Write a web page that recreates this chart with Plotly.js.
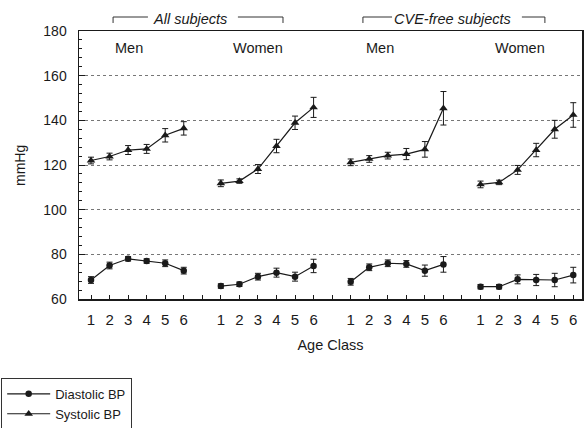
<!DOCTYPE html>
<html>
<head>
<meta charset="utf-8">
<script src="https://cdn.plot.ly/plotly-3.0.1.min.js"></script>
<style>html,body{margin:0;padding:0;background:#fff;}#chart{width:587px;height:428px;}</style>
</head>
<body>
<div id="chart"></div>
<script>
// Age classes and the four panels
const ageClasses = [1, 2, 3, 4, 5, 6];
const groups = ["All subjects – Men", "All subjects – Women", "CVE-free subjects – Men", "CVE-free subjects – Women"];
const panelLabels = ["Men", "Women", "Men", "Women"];
const headerLabels = ["All subjects", "CVE-free subjects"];
const yTitle = "mmHg";
const xTitle = "Age Class";

// Diastolic BP (mmHg) per panel and its error
const diaAllMen     = [68.5, 75.0, 78.0, 77.0, 76.0, 72.7];
const diaAllWomen   = [65.8, 66.6, 70.0, 71.8, 70.0, 74.8];
const diaFreeMen    = [67.7, 74.2, 76.0, 75.7, 72.7, 75.5];
const diaFreeWomen  = [65.5, 65.5, 68.8, 68.5, 68.5, 70.7];
const diaErrAllMen    = [1.5, 1.5, 1.0, 1.0, 1.5, 1.5];
const diaErrAllWomen  = [1.0, 1.0, 1.5, 2.0, 2.0, 3.0];
const diaErrFreeMen   = [1.5, 1.5, 1.5, 1.5, 2.5, 3.5];
const diaErrFreeWomen = [1.0, 1.0, 2.0, 2.5, 3.0, 3.5];

// Systolic BP (mmHg) per panel and its error
const sysAllMen     = [122.0, 123.8, 126.7, 127.2, 133.3, 136.4];
const sysAllWomen   = [111.8, 112.8, 118.2, 128.5, 138.9, 145.8];
const sysFreeMen    = [121.2, 122.7, 124.2, 124.9, 127.0, 145.4];
const sysFreeWomen  = [111.3, 112.2, 117.8, 126.7, 136.0, 142.4];
const sysErrAllMen    = [1.5, 1.5, 2.0, 2.0, 3.0, 3.0];
const sysErrAllWomen  = [1.5, 1.0, 2.0, 3.0, 3.0, 4.5];
const sysErrFreeMen   = [1.5, 1.5, 1.5, 2.5, 3.5, 7.5];
const sysErrFreeWomen = [1.5, 1.0, 2.0, 3.0, 4.0, 5.5];

const diaSets = [diaAllMen, diaAllWomen, diaFreeMen, diaFreeWomen];
const diaErrs = [diaErrAllMen, diaErrAllWomen, diaErrFreeMen, diaErrFreeWomen];
const sysSets = [sysAllMen, sysAllWomen, sysFreeMen, sysFreeWomen];
const sysErrs = [sysErrAllMen, sysErrAllWomen, sysErrFreeMen, sysErrFreeWomen];

const step = 7; // panel offset on the shared x axis
function build(sets, errs) {
  const x = [], y = [], e = [];
  sets.forEach((s, g) => {
    ageClasses.forEach((c, i) => { x.push(g * step + c); y.push(s[i]); e.push(errs[g][i]); });
    if (g < sets.length - 1) { x.push(g * step + 7); y.push(null); e.push(null); }
  });
  return {x, y, e};
}
const dia = build(diaSets, diaErrs);
const sys = build(sysSets, sysErrs);

const ink = "#1a1a1a";
const FONT = "Liberation Sans, Arial, Helvetica, sans-serif";

const traces = [
  {type: "scatter", mode: "lines+markers", name: "Diastolic BP", x: dia.x, y: dia.y, connectgaps: false,
   line: {color: ink, width: 1.2}, marker: {symbol: "circle", size: 6.5, color: ink},
   error_y: {type: "data", array: dia.e, visible: true, color: ink, thickness: 1, width: 3}},
  {type: "scatter", mode: "lines+markers", name: "Systolic BP", x: sys.x, y: sys.y, connectgaps: false,
   line: {color: ink, width: 1.2}, marker: {symbol: "triangle-up", size: 7.5, color: ink},
   error_y: {type: "data", array: sys.e, visible: true, color: ink, thickness: 1, width: 3}}
];

const tickvals = [], ticktext = [];
for (let v = 1; v <= 27; v++) { tickvals.push(v); ticktext.push(v % 7 === 0 ? "" : String(v % 7)); }

const panelX = [3.05, 10.0, 16.58, 24.13];
const annotations = panelLabels.map((t, i) => ({
  text: t, x: panelX[i], xref: "x", y: 0.9366, yref: "paper", showarrow: false,
  font: {family: FONT, size: 14.5, color: ink}, xanchor: "center", yanchor: "middle"
}));
const headerX = [6.34, 20.51];
headerLabels.forEach((t, i) => annotations.push({
  text: "<i>" + t + "</i>", x: headerX[i], xref: "x", y: 1.0448, yref: "paper", showarrow: false,
  font: {family: FONT, size: 14.5, color: ink}, xanchor: "center", yanchor: "middle"
}));
annotations.push({
  text: yTitle, textangle: -90, x: -0.1173, xref: "paper", y: 0.5, yref: "paper", showarrow: false,
  font: {family: FONT, size: 14, color: ink}, xanchor: "center", yanchor: "middle"
});

const yl = 1.0522, yb = 1.0299;
const segs = [
  [2.19, 4.07], [8.92, 11.35], [15.66, 17.23], [24.23, 25.47]
];
const shapes = [];
segs.forEach(s => shapes.push({type: "line", xref: "x", yref: "paper", x0: s[0], x1: s[1], y0: yl, y1: yl, line: {color: "#333", width: 1}}));
[2.19, 11.35, 15.66, 25.47].forEach(xv => shapes.push({type: "line", xref: "x", yref: "paper", x0: xv, x1: xv, y0: yl, y1: yb, line: {color: "#333", width: 1}}));

const layout = {
  width: 587, height: 428,
  margin: {l: 79, r: 5, t: 31, b: 129, autoexpand: false},
  paper_bgcolor: "#fff", plot_bgcolor: "#fff",
  font: {family: FONT, color: ink, size: 14},
  showlegend: true,
  legend: {xref: "container", yref: "container", x: 0.002, y: 0.117, xanchor: "left", yanchor: "top",
           bordercolor: "#333", borderwidth: 1,
           font: {family: FONT, size: 13, color: ink}, itemwidth: 43, tracegroupgap: 0, bgcolor: "#fff"},
  xaxis: {range: [0.353, 27.47], tickvals: tickvals, ticktext: ticktext, ticks: "inside", ticklen: 4,
          tickcolor: ink, showline: true, linecolor: ink, linewidth: 1.5, mirror: true, showgrid: false,
          zeroline: false, tickfont: {family: FONT, size: 15, color: ink}, ticklabelstandoff: 6,
          title: {text: xTitle, font: {family: FONT, size: 14.5, color: ink}, standoff: 13}},
  yaxis: {range: [60, 180], dtick: 20, ticks: "inside", ticklen: 6, tickcolor: ink,
          minor: {dtick: 4, ticks: "inside", ticklen: 3, tickcolor: ink, showgrid: false},
          showline: true, linecolor: ink, linewidth: 1.5, mirror: true,
          showgrid: true, gridcolor: "#777", griddash: "dot", gridwidth: 1, zeroline: false,
          tickfont: {family: FONT, size: 14, color: ink}, ticklabelstandoff: 8},
  annotations: annotations,
  shapes: shapes
};

Plotly.newPlot("chart", traces, layout, {displayModeBar: false, staticPlot: true});
</script>
</body>
</html>
